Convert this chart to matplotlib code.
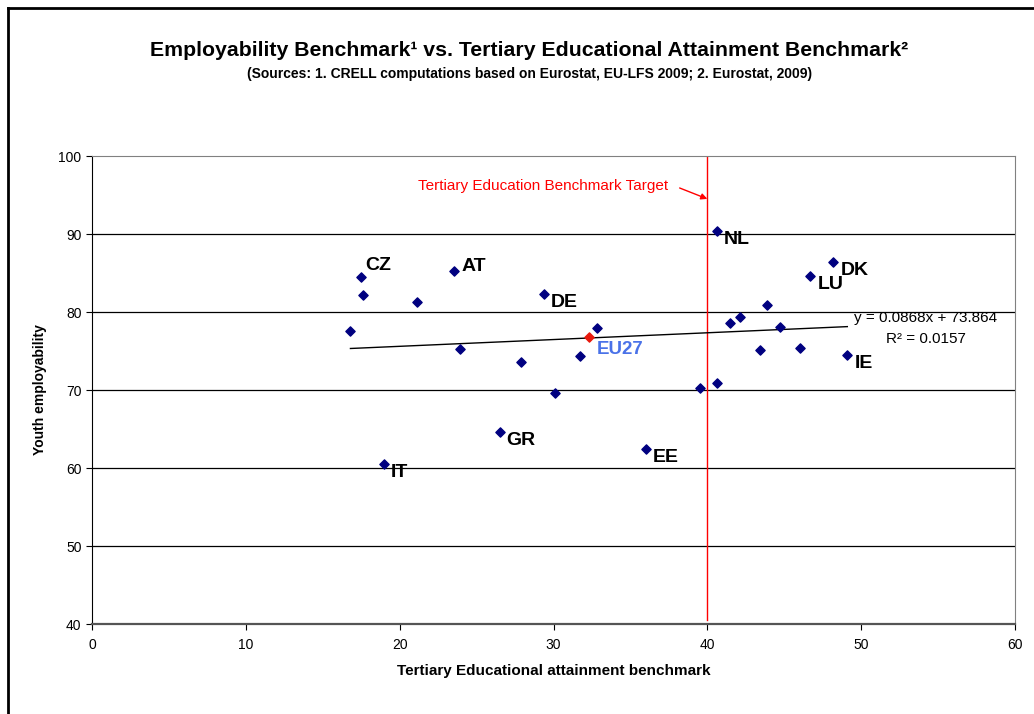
import matplotlib
matplotlib.use("Agg")
import matplotlib.pyplot as plt
from matplotlib.lines import Line2D
import numpy as np

plt.rcParams['font.family'] = ['Liberation Sans', 'DejaVu Sans']

# tertiary attainment (x) vs youth employability (y)
tertiary = [17.5, 17.6, 21.1, 23.5, 29.4, 16.8, 23.9, 27.9, 31.7, 32.8,
            30.1, 26.5, 19.0, 36.0, 40.6, 48.2, 46.7, 43.9, 41.5, 42.1,
            44.7, 43.4, 46.0, 49.1, 39.5, 40.6]
employ = [84.5, 82.2, 81.3, 85.3, 82.3, 77.6, 75.3, 73.6, 74.4, 78.0,
          69.6, 64.6, 60.5, 62.4, 90.4, 86.4, 84.6, 80.9, 78.6, 79.4,
          78.1, 75.1, 75.4, 74.5, 70.3, 70.9]
names = ['CZ', '', '', 'AT', 'DE', '', '', '', '', '',
         '', 'GR', 'IT', 'EE', 'NL', 'DK', 'LU', '', '', '',
         '', '', '', 'IE', '', '']
eu27 = (32.3, 76.8)

# Excel trendline shown on the chart
slope, intercept = 0.0868, 73.864
r2 = 0.0157
target = 40

# label offsets in points (most sit below-right of their marker)
offsets = {'CZ': (3, 8), 'AT': (6, 3)}
default_off = (5, -6)

fig = plt.figure(figsize=(10.34, 7.14), dpi=100)
ax = fig.add_axes([92 / 1034, 90 / 714, 923 / 1034, 468 / 714])

# chart frame: only left and top edges are visible
fig.lines.append(Line2D([8 / 1034, 8 / 1034], [0, 1 - 8 / 714],
                        transform=fig.transFigure, color='black', lw=2))
fig.lines.append(Line2D([8 / 1034, 1], [1 - 8 / 714, 1 - 8 / 714],
                        transform=fig.transFigure, color='black', lw=2))

for yy in range(50, 100, 10):
    ax.axhline(yy, color='black', lw=0.9, zorder=1)

ax.plot([target, target], [40.5, 100], color='red', lw=1, zorder=2)

xs = np.array([min(tertiary), max(tertiary)])
ax.plot(xs, slope * xs + intercept, color='black', lw=1, zorder=3)

ax.scatter(tertiary, employ, marker='D', s=22, color='#000080', zorder=4)
ax.scatter([eu27[0]], [eu27[1]], marker='D', s=22, color='#E8180C', zorder=5)

for x, y, n in zip(tertiary, employ, names):
    if n:
        ax.annotate(n, (x, y), xytext=offsets.get(n, default_off),
                    textcoords='offset points', fontsize=14, fontweight='bold',
                    va='center', ha='left')
ax.annotate('EU27', eu27, xytext=(6, -9), textcoords='offset points',
            fontsize=13.5, fontweight='bold', color='#4A72E8', va='center')

ax.text(54.2, 79.2, 'y = 0.0868x + 73.864', fontsize=11, ha='center', va='center')
ax.text(54.2, 76.6, 'R² = %.4f' % r2, fontsize=11, ha='center', va='center')

ax.text(37.45, 96.2, 'Tertiary Education Benchmark Target', color='red',
        fontsize=11, ha='right', va='center')
ax.annotate('', xy=(40.0, 94.5), xytext=(38.2, 95.9),
            arrowprops=dict(arrowstyle='-|>', color='red', lw=1, mutation_scale=9,
                            shrinkA=0, shrinkB=0))

ax.set_xlim(0, 60)
ax.set_ylim(40, 100)
ax.set_xticks(range(0, 61, 10))
ax.set_yticks(range(40, 101, 10))
ax.tick_params(labelsize=10, length=4, width=0.8, direction='out')
ax.tick_params(axis='x', pad=6)
for s in ['top', 'right']:
    ax.spines[s].set_color('#808080')
ax.spines['bottom'].set_color('#555555')
ax.spines['bottom'].set_linewidth(1.6)

ax.set_xlabel('Tertiary Educational attainment benchmark', fontsize=11,
              fontweight='bold', labelpad=9)
ax.set_ylabel('Youth employability', fontsize=10, fontweight='bold', labelpad=8)

fig.text(0.512, 1 - 50 / 714, 'Employability Benchmark¹ vs. Tertiary Educational Attainment Benchmark²',
         ha='center', va='center', fontsize=15.3, fontweight='bold')
fig.text(0.512, 1 - 74 / 714, '(Sources: 1. CRELL computations based on Eurostat, EU-LFS 2009; 2. Eurostat, 2009)',
         ha='center', va='center', fontsize=10, fontweight='bold')

fig.savefig('out.png', dpi=100)
